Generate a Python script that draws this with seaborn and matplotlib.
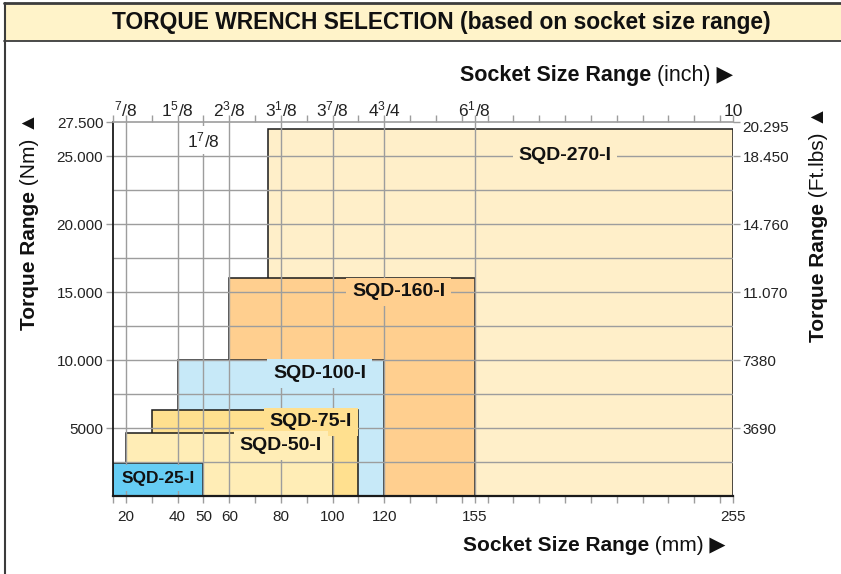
import matplotlib
matplotlib.use("Agg")
import matplotlib.pyplot as plt
import seaborn as sns
from matplotlib.patches import Rectangle
from matplotlib.lines import Line2D
from matplotlib import font_manager
from matplotlib.transforms import offset_copy

# ---------------- data ----------------
models = ["SQD-270-I", "SQD-160-I", "SQD-100-I", "SQD-75-I", "SQD-50-I", "SQD-25-I"]
mm_min = [75, 60, 40, 30, 20, 15]
mm_max = [255, 155, 120, 110, 100, 50]
torque_max_nm = [27000, 16000, 10000, 6300, 4600, 2400]
box_colors = ["#FFEFC9", "#FFCF8F", "#C7E9F8", "#FFE08F", "#FFEDB6", "#66CDF4"]

nm_ticks = [5000, 10000, 15000, 20000, 25000, 27500]
nm_labels = ["5000", "10.000", "15.000", "20.000", "25.000", "27.500"]
ftlbs_labels = ["3690", "7380", "11.070", "14.760", "18.450", "20.295"]

mm_label_ticks = [20, 40, 50, 60, 80, 100, 120, 155, 255]
mm_minor_ticks = [15, 30, 70, 90, 110, 130, 140, 150, 160, 170, 180, 190, 200,
                  210, 220, 230, 240, 250]
grid_mm = [20, 40, 50, 60, 80, 100, 120, 155]
grid_nm = [2500, 5000, 7500, 10000, 12500, 15000, 17500, 20000, 22500, 25000]

inch_pos_mm = [20, 40, 60, 80, 100, 120, 155, 255]
inch_labels = [r"$^{7}$/8", r"1$^{5}$/8", r"2$^{3}$/8", r"3$^{1}$/8",
               r"3$^{7}$/8", r"4$^{3}$/4", r"6$^{1}$/8", "10"]
inch_low_pos_mm = 50
inch_low_label = r"1$^{7}$/8"

# label anchor positions (layout)
label_xy = [(190, 25000), (125.5, 15000), (95, 9000), (91.5, 5450), (80, 3700), (32.5, 1320)]
label_sizes = [14, 14, 14, 14, 14, 12.5]

X_MIN, X_MAX = 15, 255
Y_MIN, Y_MAX = 0, 27500

# ---------------- style ----------------
sns.set_theme(style="white")
names = {f.name for f in font_manager.fontManager.ttflist}
NARROW = "Liberation Sans Narrow" if "Liberation Sans Narrow" in names else "Liberation Sans"
plt.rcParams["font.family"] = ["Liberation Sans", "DejaVu Sans"]
plt.rcParams["mathtext.fontset"] = "custom"
plt.rcParams["mathtext.rm"] = "Liberation Sans"
plt.rcParams["mathtext.default"] = "regular"

W, H = 841, 574
fig = plt.figure(figsize=(W / 100, H / 100), dpi=100)
fig.patch.set_facecolor("white")


def fx(px):
    return px / W


def fy(py):
    return 1 - py / H


GRID = "#9d9d9d"
DARK = "#1a1a1a"
TXT = "#222222"

ax = fig.add_axes([fx(113), fy(496), fx(733) - fx(113), fy(122) - fy(496)])
ax.set_xlim(X_MIN, X_MAX)
ax.set_ylim(Y_MIN, Y_MAX)
ax.set_facecolor("white")

# boxes
for i in range(len(models)):
    ax.bar(mm_min[i], torque_max_nm[i], width=mm_max[i] - mm_min[i], bottom=0,
           align="edge", color=box_colors[i], edgecolor=DARK, linewidth=1.1, zorder=1)

# grid
ax.hlines(grid_nm, X_MIN, X_MAX, colors=GRID, linewidth=1.0, zorder=2)
ax.vlines(grid_mm, Y_MIN, Y_MAX, colors=GRID, linewidth=1.0, zorder=2)

# box labels
for i, name in enumerate(models):
    x, y = label_xy[i]
    ax.text(x, y, name, ha="center", va="center", fontsize=label_sizes[i],
            fontweight="bold", color="#111111", zorder=4,
            bbox=dict(boxstyle="square,pad=0.3", fc=box_colors[i], ec="none"))

# axes spines / ticks
sns.despine(ax=ax, top=True, right=True)
ax.spines["left"].set_color(DARK)
ax.spines["left"].set_linewidth(1.3)
ax.spines["bottom"].set_color(DARK)
ax.spines["bottom"].set_linewidth(1.6)

all_x = sorted(mm_label_ticks + mm_minor_ticks)
ax.set_xticks(all_x)
ax.set_xticklabels([str(v) if v in mm_label_ticks else "" for v in all_x])
ax.set_yticks(nm_ticks)
ax.set_yticklabels(nm_labels)
ax.tick_params(axis="x", which="major", bottom=True, direction="out", length=5,
               width=1, color=GRID, labelsize=11, labelcolor=TXT, pad=5)
ax.tick_params(axis="y", which="major", left=True, direction="out", length=5,
               width=1, color=GRID, labelsize=11, labelcolor=TXT, pad=2)
ax.grid(False)

# top axis (inch)
axt = ax.twiny()
axt.set_xlim(X_MIN, X_MAX)
axt.set_xticks(all_x)
axt.set_xticklabels([])
for s in ["left", "right", "bottom"]:
    axt.spines[s].set_visible(False)
axt.spines["top"].set_color(GRID)
axt.spines["top"].set_linewidth(1.2)
axt.tick_params(axis="x", top=True, direction="out", length=5, width=1, color=GRID)
axt.grid(False)

# right axis (ft.lbs)
axr = ax.twinx()
axr.set_ylim(Y_MIN, Y_MAX)
axr.set_yticks(nm_ticks)
axr.set_yticklabels(ftlbs_labels[:-1] + [""])
for s in ["left", "right", "bottom", "top"]:
    axr.spines[s].set_visible(False)
axr.tick_params(axis="y", right=True, direction="out", length=5, width=1,
                color=GRID, labelsize=11, labelcolor=TXT, pad=2)
axr.grid(False)
axr.text(1, nm_ticks[-1], ftlbs_labels[-1], ha="left", va="center", fontsize=11, color=TXT,
         transform=offset_copy(axr.get_yaxis_transform(), fig, x=9, y=-6, units="dots"))

# inch labels
tr = ax.get_xaxis_transform()
for pos, lab in zip(inch_pos_mm, inch_labels):
    ax.text(pos, 1.0, lab, ha="center", va="baseline", fontsize=12.5, color=TXT,
            transform=offset_copy(tr, fig, x=0, y=6, units="dots"), clip_on=False)
ax.text(inch_low_pos_mm, Y_MAX, inch_low_label, ha="center", va="baseline", fontsize=12.5,
        color=TXT, zorder=4,
        transform=offset_copy(ax.transData, fig, x=0, y=-25, units="dots"),
        bbox=dict(boxstyle="square,pad=0.25", fc="white", ec="none"))

# ---------------- frame & title ----------------
fig.patches.append(Rectangle((fx(4), fy(41)), 1 - fx(4), fy(3) - fy(41), transform=fig.transFigure,
                             fc="#FFF3C9", ec="none", zorder=0))
fig.lines.append(Line2D([fx(4), 1], [fy(3), fy(3)], transform=fig.transFigure, color="#3c3c3c", lw=2))
fig.lines.append(Line2D([fx(4), 1], [fy(41), fy(41)], transform=fig.transFigure, color="#3c3c3c", lw=1.3))
fig.lines.append(Line2D([fx(4.5), fx(4.5)], [0, fy(3)], transform=fig.transFigure, color="#3c3c3c", lw=1.5))

fig.text(fx(441), fy(22), "TORQUE WRENCH SELECTION (based on socket size range)", ha="center",
         va="center", fontsize=16.4, fontweight="bold", family=[NARROW, "DejaVu Sans"], color="#111111")

fig.canvas.draw()
rend = fig.canvas.get_renderer()
inv = fig.transFigure.inverted()


def two_part_h(x_px, y_px, bold, normal, size, family):
    a = fig.text(fx(x_px), fy(y_px), bold, ha="left", va="baseline", fontsize=size,
                 fontweight="bold", family=family, color="#111111")
    bb = a.get_window_extent(rend)
    x1 = inv.transform((bb.x1, 0))[0]
    fig.text(x1, fy(y_px), normal, ha="left", va="baseline", fontsize=size,
             family=family, color="#111111")


def two_part_v(x_px, y_px, bold, normal, size, family):
    a = fig.text(fx(x_px), fy(y_px), bold, ha="left", va="baseline", fontsize=size,
                 fontweight="bold", family=family, color="#111111", rotation=90,
                 rotation_mode="anchor")
    bb = a.get_window_extent(rend)
    y1 = inv.transform((0, bb.y1))[1]
    fig.text(fx(x_px), y1, normal, ha="left", va="baseline", fontsize=size,
             family=family, color="#111111", rotation=90, rotation_mode="anchor")


two_part_h(460, 81, "Socket Size Range", " (inch) \u25B6", 15.5, [NARROW, "DejaVu Sans"])
two_part_h(463, 551, "Socket Size Range", " (mm) \u25B6", 15, [NARROW, "DejaVu Sans"])
two_part_v(35, 330, "Torque Range", " (Nm) \u25B2", 15, ["Liberation Sans", "DejaVu Sans"])
two_part_v(824, 342, "Torque Range", " (Ft.lbs) \u25B2", 15, ["Liberation Sans", "DejaVu Sans"])

fig.savefig("out.png", dpi=100)
